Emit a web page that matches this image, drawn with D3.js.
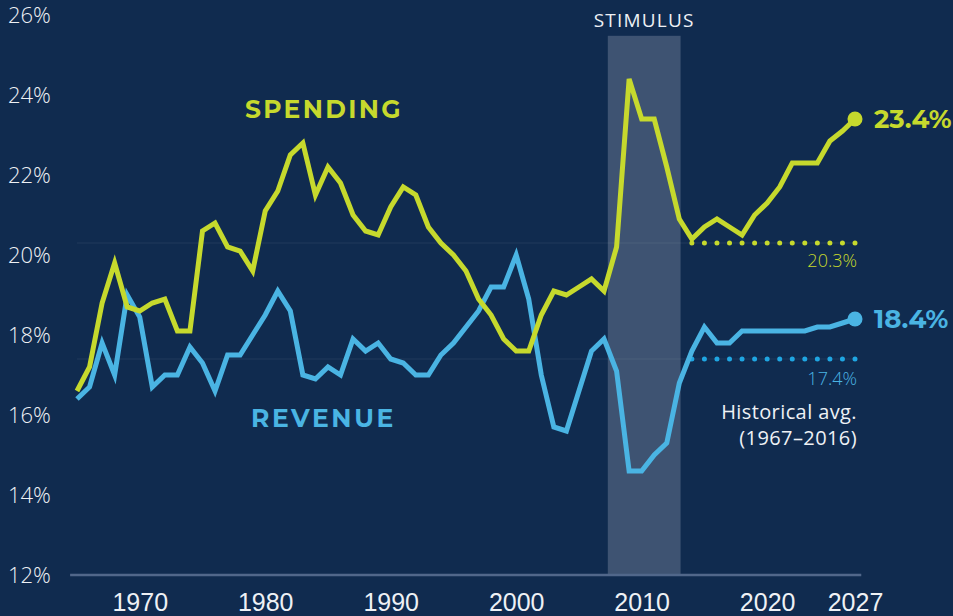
<!DOCTYPE html>
<html>
<head>
<meta charset="utf-8">
<script src="https://cdn.jsdelivr.net/npm/d3@7"></script>
<style>
html,body{margin:0;padding:0;background:#102b4f;}
svg{display:block;}
</style>
</head>
<body>
<svg id="chart" width="953" height="616"></svg>
<script>
// ---- data ----
const years = d3.range(1965, 2028);
const spending = [
 16.6,17.2,18.8,19.8,18.7,18.6,18.8,18.9,18.1,18.1,
 20.6,20.8,20.2,20.1,19.6,21.1,21.6,22.5,22.8,21.5,
 22.2,21.8,21.0,20.6,20.5,21.2,21.7,21.5,20.7,20.3,
 20.0,19.6,18.9,18.5,17.9,17.6,17.6,18.5,19.1,19.0,
 19.2,19.4,19.1,20.2,24.4,23.4,23.4,22.2,20.9,20.4,
 20.7,20.9,20.7,20.5,21.0,21.3,21.7,22.3,22.3,22.3,
 22.85,23.1,23.4];
const revenue = [
 16.4,16.7,17.8,17.0,19.0,18.45,16.7,17.0,17.0,17.7,
 17.3,16.6,17.5,17.5,18.0,18.5,19.1,18.6,17.0,16.9,
 17.2,17.0,17.9,17.6,17.8,17.4,17.3,17.0,17.0,17.5,
 17.8,18.2,18.6,19.2,19.2,20.0,18.9,17.0,15.7,15.6,
 16.6,17.6,17.9,17.1,14.6,14.6,15.0,15.3,16.8,17.6,
 18.2,17.8,17.8,18.1,18.1,18.1,18.1,18.1,18.1,18.2,
 18.2,18.3,18.4];
const avgSpending = 20.3;
const avgRevenue = 17.4;
const avgStart = 2014, avgEnd = 2027;
const stimulus = {start: 2007.3, end: 2013.1, top: 25.48, label: "STIMULUS"};
const yTicks = [12,14,16,18,20,22,24,26];
const xTicks = [1970,1980,1990,2000,2010,2020,2027];

// ---- colours ----
const cSpend = "#c6d92d", cRev = "#4ab4e3", cRevDot = "#1fa6e2";
const svg = d3.select("#chart");
svg.append("rect").attr("width",953).attr("height",616).attr("fill","#102b4f");

const x = d3.scaleLinear().domain([1965, 2027]).range([77, 855]);
const y = d3.scaleLinear().domain([12, 26]).range([575, 15]);

// stimulus band
svg.append("rect")
  .attr("x", x(stimulus.start)).attr("width", x(stimulus.end) - x(stimulus.start))
  .attr("y", y(stimulus.top)).attr("height", y(12) - y(stimulus.top))
  .attr("fill", "#3e5372");
svg.append("text")
  .attr("x", (x(stimulus.start)+x(stimulus.end))/2).attr("y", 27)
  .attr("text-anchor","middle").attr("fill","#eef1f5")
  .style("font-family","'Open Sans', sans-serif").style("font-size","19px").style("font-weight",400)
  .style("letter-spacing","1.2px")
  .text(stimulus.label);

// faint average lines across chart
[avgSpending, avgRevenue].forEach(v => {
  svg.append("line").attr("x1", x(1965)).attr("x2", x(2027))
    .attr("y1", y(v)).attr("y2", y(v))
    .attr("stroke","#ffffff").attr("stroke-opacity",0.05).attr("stroke-width",1.5);
});

// axis line
svg.append("line").attr("x1", x(1964.45)).attr("x2", x(2027.5))
  .attr("y1", y(12)).attr("y2", y(12))
  .attr("stroke","#51678a").attr("stroke-width",2.5);

// y tick labels
svg.append("g").selectAll("text").data(yTicks).join("text")
  .attr("x", 8).attr("y", d => y(d) + 8)
  .attr("fill","#eef1f5")
  .style("font-family","'Open Sans', sans-serif").style("font-size","22px").style("font-weight",300)
  .text(d => d + "%");

// x axis via d3 axis
const xAxis = d3.axisBottom(x).tickValues(xTicks).tickFormat(d3.format("d")).tickSize(0).tickPadding(0);
const gx = svg.append("g").attr("transform", `translate(0,${y(12)})`).call(xAxis);
gx.select(".domain").remove();
gx.selectAll("text")
  .attr("y", 36).attr("dy", 0)
  .attr("fill","#eef1f5")
  .style("font-family","'Liberation Sans Narrow', 'Arial Narrow', sans-serif")
  .style("font-size","25px");

// dotted average lines
const step = x(1) - x(0);
svg.append("line").attr("x1", x(avgStart)).attr("x2", x(avgEnd)+0.5)
  .attr("y1", y(avgSpending)).attr("y2", y(avgSpending))
  .attr("stroke", cSpend).attr("stroke-width",5).attr("stroke-linecap","round")
  .attr("stroke-dasharray", `0 ${step}`);
svg.append("line").attr("x1", x(avgStart)).attr("x2", x(avgEnd)+0.5)
  .attr("y1", y(avgRevenue)).attr("y2", y(avgRevenue))
  .attr("stroke", cRevDot).attr("stroke-width",5).attr("stroke-linecap","round")
  .attr("stroke-dasharray", `0 ${step}`);

// lines
const line = d3.line().x((d,i) => x(years[i])).y(d => y(d));
svg.append("path").datum(revenue).attr("d", line)
  .attr("fill","none").attr("stroke",cRev).attr("stroke-width",5).attr("stroke-linejoin","miter");
svg.append("path").datum(spending).attr("d", line)
  .attr("fill","none").attr("stroke",cSpend).attr("stroke-width",5).attr("stroke-linejoin","miter");

// end dots
const last = years.length - 1;
svg.append("circle").attr("cx", x(years[last])).attr("cy", y(spending[last])).attr("r",7.5).attr("fill",cSpend);
svg.append("circle").attr("cx", x(years[last])).attr("cy", y(revenue[last])).attr("r",7.5).attr("fill",cRev);

// end labels
const bold = "'Montserrat','Open Sans', sans-serif";
svg.append("text").attr("x", 874).attr("y", y(spending[last]) + 9)
  .attr("fill", cSpend).style("font-family",bold).style("font-weight",700).style("font-size","26px")
  .text(spending[last].toFixed(1) + "%");
svg.append("text").attr("x", 874).attr("y", y(revenue[last]) + 9)
  .attr("fill", cRev).style("font-family",bold).style("font-weight",700).style("font-size","26px")
  .text(revenue[last].toFixed(1) + "%");

// series labels
svg.append("text").attr("x", 245).attr("y", 118)
  .attr("fill", cSpend).style("font-family",bold).style("font-weight",700).style("font-size","25px")
  .style("letter-spacing","2.3px").text("SPENDING");
svg.append("text").attr("x", 251).attr("y", 427)
  .attr("fill", cRev).style("font-family",bold).style("font-weight",700).style("font-size","25px")
  .style("letter-spacing","2.6px").text("REVENUE");

// average labels
const light = "'Open Sans', sans-serif";
svg.append("text").attr("x", 857).attr("y", y(avgSpending) + 24).attr("text-anchor","end")
  .attr("fill", cSpend).style("font-family",light).style("font-size","18px").style("font-weight",300)
  .text(avgSpending.toFixed(1) + "%");
svg.append("text").attr("x", 857).attr("y", y(avgRevenue) + 26).attr("text-anchor","end")
  .attr("fill", cRev).style("font-family",light).style("font-size","18px").style("font-weight",300)
  .text(avgRevenue.toFixed(1) + "%");
svg.append("text").attr("x", 857).attr("y", 419).attr("text-anchor","end")
  .attr("fill", "#eef1f5").style("font-family",light).style("font-size","20px").style("font-weight",400)
  .style("letter-spacing","0.4px")
  .text("Historical avg.");
svg.append("text").attr("x", 857).attr("y", 445).attr("text-anchor","end")
  .attr("fill", "#eef1f5").style("font-family",light).style("font-size","20px").style("font-weight",400)
  .style("letter-spacing","0.4px")
  .text("(1967–2016)");
</script>
</body>
</html>
